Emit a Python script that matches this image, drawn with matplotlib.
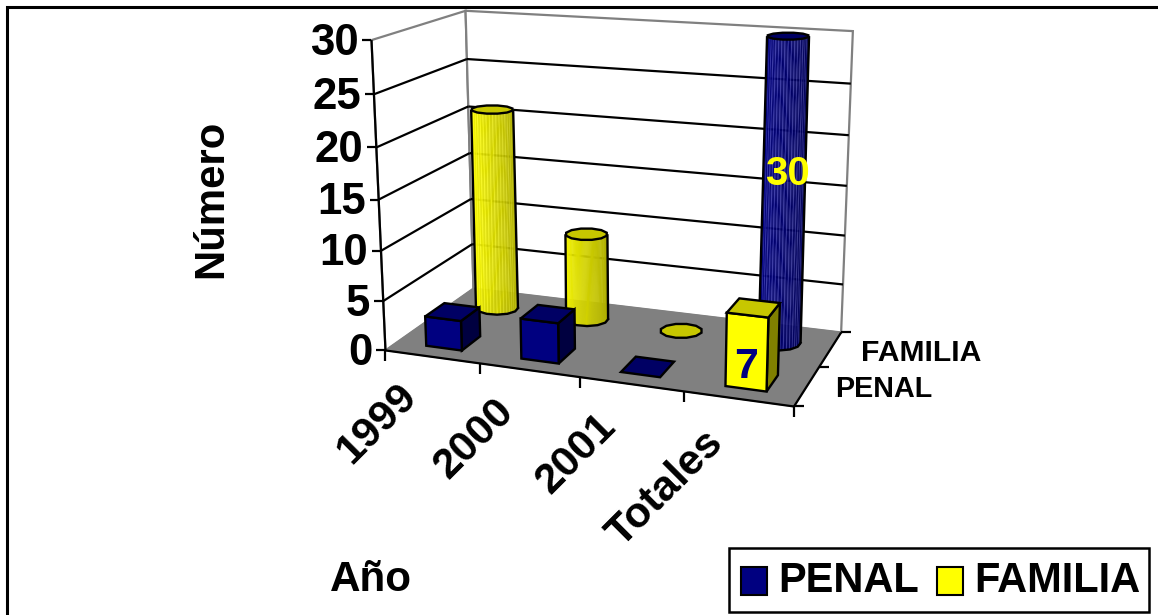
import numpy as np
import matplotlib
matplotlib.use("Agg")
import matplotlib.pyplot as plt
from matplotlib.patches import Polygon, Rectangle

categories = ["1999", "2000", "2001", "Totales"]
series_names = ["PENAL", "FAMILIA"]
penal = [3, 4, 0, 7]
familia = [21, 9, 0, 30]
z_ticks = [0, 5, 10, 15, 20, 25, 30]

NAVY = "#000080"
YEL = "#FFFF00"
plt.rcParams["font.family"] = ["Liberation Sans", "DejaVu Sans"]
plt.rcParams["font.weight"] = "bold"

fig = plt.figure(figsize=(11.58, 6.15), dpi=100)
ax = fig.add_axes([0, 0, 1, 1])
ax.set_xlim(0, 1158)
ax.set_ylim(615, 0)
ax.axis("off")

# perspective camera fitted to the plot box corners (cat, depth, value) -> pixels
corners_world = [(0, 0, 0), (4, 0, 0), (4, 2, 0), (0, 2, 0), (0, 0, 30), (0, 2, 30), (4, 2, 30)]
corners_px = [(385, 351), (794, 406), (841, 333), (474, 288), (372, 40), (465, 11), (853, 31)]
rows = []
rhs = []
for (X, Y, Z), (u, v) in zip(corners_world, corners_px):
    rows.append([X, Y, Z, 1, 0, 0, 0, 0, -u * X, -u * Y, -u * Z])
    rhs.append(u)
    rows.append([0, 0, 0, 0, X, Y, Z, 1, -v * X, -v * Y, -v * Z])
    rhs.append(v)
P = np.linalg.lstsq(np.array(rows, float), np.array(rhs, float), rcond=None)[0]
P = np.append(P, 1.0).reshape(3, 4)


def proj(x, d, z):
    p = P @ np.array([x, d, z, 1.0])
    return p[0] / p[2], p[1] / p[2]


def line(p, q, color="k", lw=1.6, zo=2):
    ax.plot([p[0], q[0]], [p[1], q[1]], color=color, lw=lw, zorder=zo, solid_capstyle="butt")


def poly(pts, fc, ec="k", lw=1.7, zo=3):
    ax.add_patch(Polygon(pts, closed=True, fc=fc, ec=ec, lw=lw, zorder=zo, joinstyle="miter"))


# walls and floor
poly([proj(0, 0, 0), proj(0, 2, 0), proj(0, 2, 30), proj(0, 0, 30)], "white", "#808080", 1.6, 1)
poly([proj(0, 2, 0), proj(4, 2, 0), proj(4, 2, 30), proj(0, 2, 30)], "white", "#808080", 1.6, 1)
for z in z_ticks[1:-1]:
    line(proj(0, 0, z), proj(0, 2, z), "k", 1.6, 1.5)
    line(proj(0, 2, z), proj(4, 2, z), "k", 1.6, 1.5)
poly([proj(0, 0, 0), proj(4, 0, 0), proj(4, 2, 0), proj(0, 2, 0)], "#808080", "#808080", 1, 1.8)

# axes
line(proj(0, 0, 0), proj(0, 0, 30))
line(proj(0, 0, 0), proj(4, 0, 0))
line(proj(4, 0, 0), proj(4, 2, 0))
for z in z_ticks:
    u, v = proj(0, 0, z)
    line((u - 9, v), (u, v))
    ax.text(u - 13, v + 3, str(z), ha="right", va="center", fontsize=31.5)
for i in range(5):
    u, v = proj(i, 0, 0)
    line((u, v), (u, v + 11))
for i in range(3):
    u, v = proj(4, i, 0)
    line((u, v), (u + 10, v))
for i, c in enumerate(categories):
    u, v = proj(i + 1, 0, 0)
    ax.text(u - 84 - 2.3 * i, v + 13 + 1.0 * i, c, rotation=45, rotation_mode="anchor",
            ha="right", va="top", fontsize=30.7)
ax.text(861, 353, series_names[1], ha="left", va="center", fontsize=21.7)
ax.text(835, 389, series_names[0], ha="left", va="center", fontsize=20.7)
ax.text(211, 199, "Número", rotation=90, ha="center", va="center", fontsize=30.2)
ax.text(371, 580, "Año", ha="center", va="center", fontsize=30.4)


def shade(rgb, t):
    return tuple(np.array(rgb) * t / 255)


def box(xc, dc, val, face, zo):
    hw, hd = 0.19, 0.21
    x0, x1, d0, d1 = xc - hw, xc + hw, dc - hd, dc + hd
    base = np.array(matplotlib.colors.to_rgb(face)) * 255
    if val > 0:
        poly([proj(x1, d0, 0), proj(x1, d1, 0), proj(x1, d1, val), proj(x1, d0, val)], shade(base, 0.5), zo=zo)
        poly([proj(x0, d0, 0), proj(x1, d0, 0), proj(x1, d0, val), proj(x0, d0, val)], shade(base, 1.0), zo=zo)
    poly([proj(x0, d0, val), proj(x1, d0, val), proj(x1, d1, val), proj(x0, d1, val)], shade(base, 0.78), zo=zo)


def cyl(xc, dc, val, base, zo, stripe=0.0):
    rd = 0.22
    w = 21.0
    n = 12

    def ring(a, z):
        cx, cy = proj(xc, dc, z)
        h = (proj(xc, dc - rd, z)[1] - proj(xc, dc + rd, z)[1]) / 2
        return cx + w * np.cos(a), cy + h * np.sin(a)

    if val > 0:
        fine = np.linspace(np.pi, 0, 61)
        for k, (a, b) in enumerate(zip(fine[:-1], fine[1:])):
            t = (k + 0.5) / 60
            f = 1.0 - 0.36 * t
            c = shade(base, f)
            if stripe and k % 3 == 0:
                c = tuple(min(1, v + stripe) for v in c)
            poly([ring(a, 0), ring(b, 0), ring(b, val), ring(a, val)], c, c, 0.3, zo)
        line(ring(np.pi, 0), ring(np.pi, val), "k", 1.7, zo + 0.1)
        line(ring(0, 0), ring(0, val), "k", 1.7, zo + 0.1)
        arc = [ring(a, 0) for a in np.linspace(np.pi, 0, n // 2 + 1)]
        ax.plot(*zip(*arc), color="k", lw=1.7, zorder=zo + 0.1)
    cap = np.linspace(0, 2 * np.pi, n, endpoint=False) + np.pi / n
    poly([ring(a, val) for a in cap], shade(base, 0.78), zo=zo + 0.2)


# back row: cylinders, totals point is navy
row_fam = [(255, 255, 0), (255, 255, 0), (255, 255, 0), (0, 0, 128)]
stripes = [0.1, 0.0, 0.0, 0.22]
for i, v in enumerate(familia):
    cyl(i + 0.5, 1.5, v, row_fam[i], 3 + i * 0.01, stripe=stripes[i])
# front row: boxes, totals point is yellow
row_pen = [NAVY, NAVY, NAVY, YEL]
for i, v in enumerate(penal):
    box(i + 0.5, 0.46, v, row_pen[i], 5)

ax.text(787, 174, str(familia[3]), color=YEL, ha="center", va="center", fontsize=29, zorder=8)
ax.text(746, 367, str(penal[3]), color=NAVY, ha="center", va="center", fontsize=31, zorder=8)

# frame: only the top and left edges are visible
ax.plot([7, 7, 1158], [615, 6.5, 6.5], color="k", lw=2.2, zorder=0.5, solid_joinstyle="miter")

# legend box
ax.add_patch(Rectangle((728.5, 547.5), 420.5, 64, fc="white", ec="k", lw=1.8, zorder=9))
ax.add_patch(Rectangle((741, 567), 26, 28, fc=NAVY, ec="k", lw=1.5, zorder=10))
ax.add_patch(Rectangle((937, 567), 26, 28, fc=YEL, ec="k", lw=1.5, zorder=10))
ax.text(778, 581, series_names[0], ha="left", va="center", fontsize=30, zorder=10)
ax.text(974, 581, series_names[1], ha="left", va="center", fontsize=30, zorder=10)

fig.savefig("out.png", dpi=100)
